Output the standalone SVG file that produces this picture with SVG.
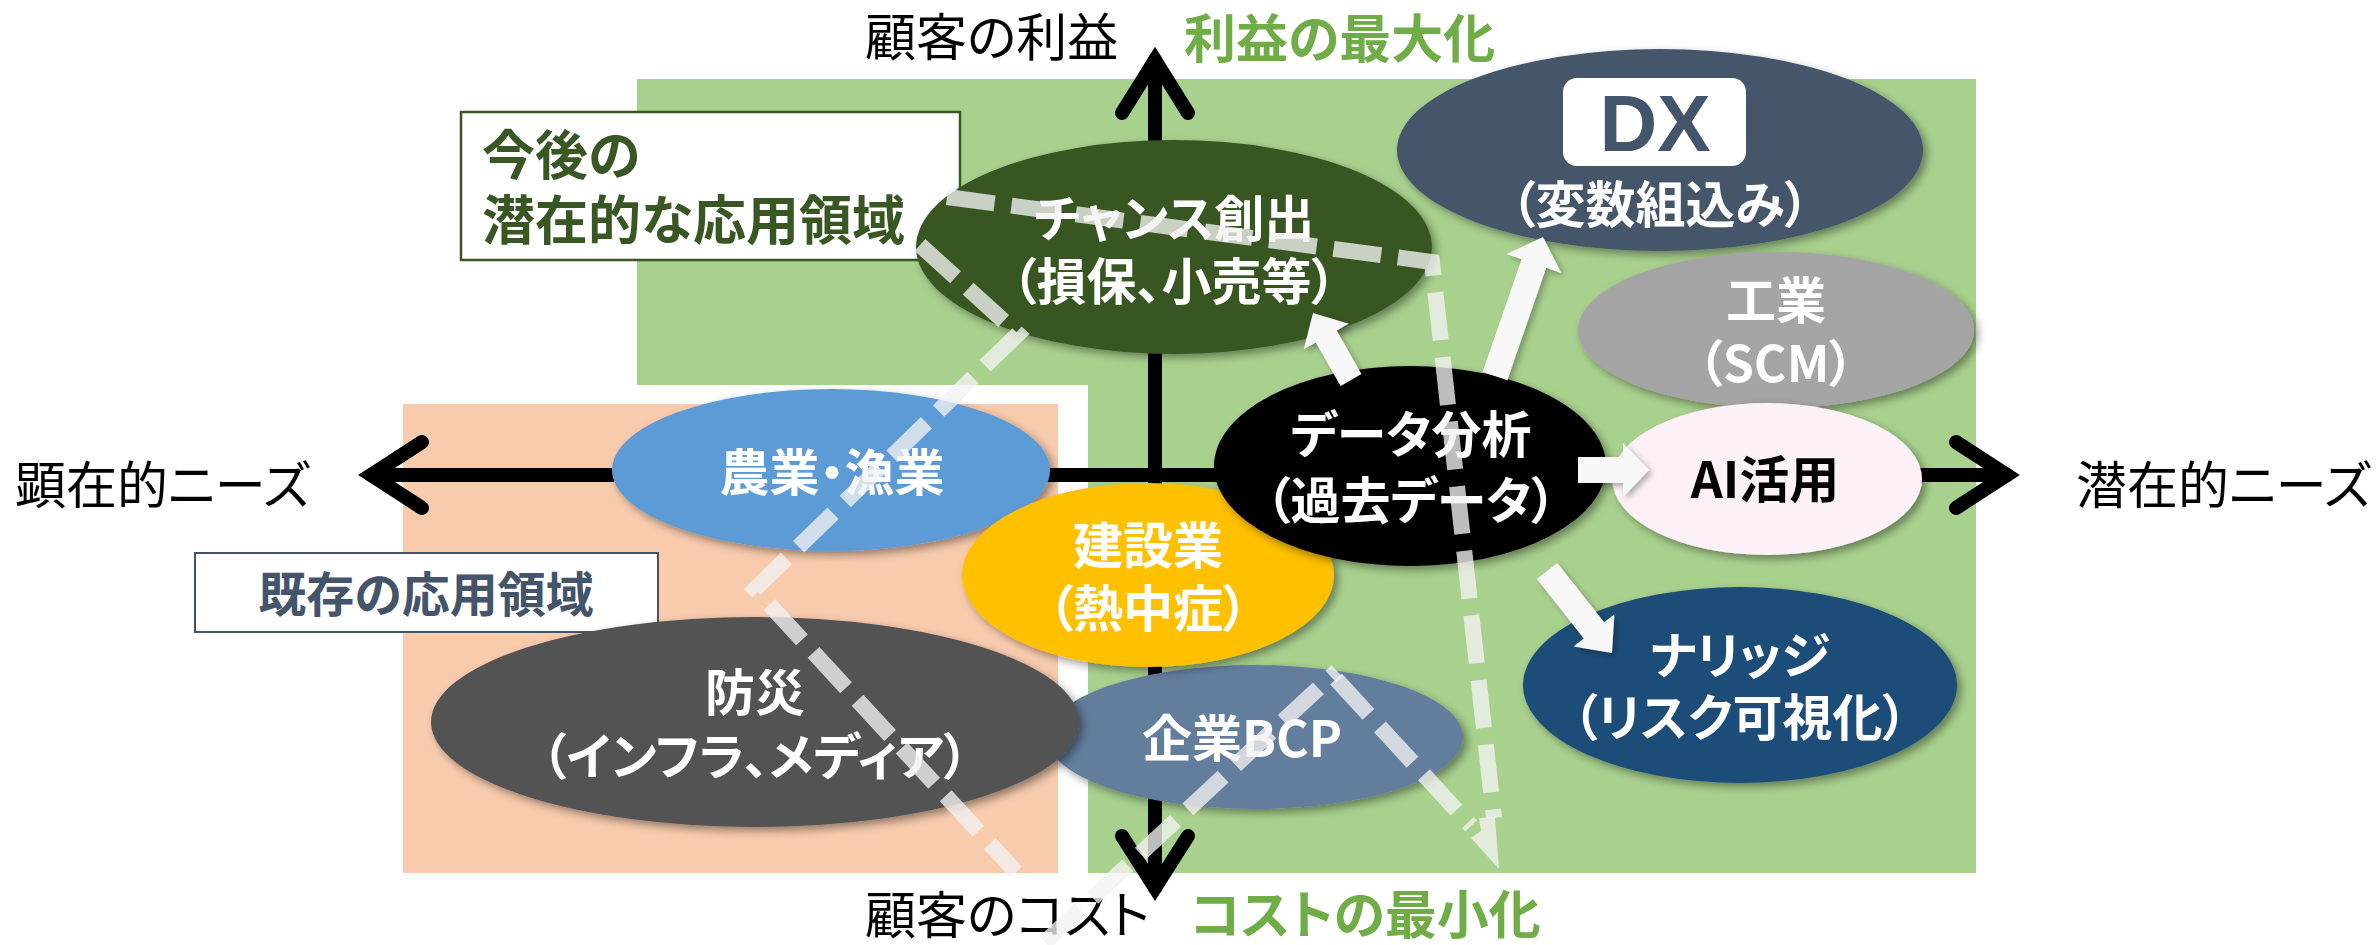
<svg xmlns="http://www.w3.org/2000/svg" width="2379" height="945" viewBox="0 0 2379 945">
<defs>
<style>
.jp{font-family:'Noto Sans CJK JP','Noto Sans CJK SC',sans-serif;font-feature-settings:"palt" 1;}
.nt{font-weight:700;font-size:50px;fill:#fff;text-anchor:middle;}
.ax{font-size:51px;fill:#000;font-weight:400;}
.gr{font-size:52px;fill:#70AD47;font-weight:700;}
.axis{stroke:#000;stroke-width:14;fill:none;stroke-linecap:round;stroke-linejoin:miter;stroke-miterlimit:6;}
.dash{stroke:#F2F2F2;stroke-opacity:0.78;stroke-width:16;fill:none;stroke-dasharray:48 17;stroke-linecap:butt;}
.arr{fill:#F8F8F8;}
</style>
<filter id="sh" x="-15%" y="-15%" width="135%" height="140%">
<feDropShadow dx="4" dy="4" stdDeviation="4" flood-color="#000" flood-opacity="0.4"/>
</filter>
<filter id="sh2" x="-30%" y="-30%" width="160%" height="160%">
<feDropShadow dx="3" dy="3" stdDeviation="3" flood-color="#000" flood-opacity="0.3"/>
</filter>
</defs>

<g id="background">
<rect x="637" y="79" width="1339" height="794" fill="#A9D18E"/>
<rect x="395" y="385" width="693" height="488" fill="#FFFFFF"/>
<rect x="403" y="404" width="655" height="469" fill="#F8CBAD"/>
</g>

<g id="axes">
<line class="axis" x1="1155" y1="60" x2="1155" y2="888"/>
<polyline class="axis" points="1122,113 1155,60 1188,113"/>
<polyline class="axis" points="1122,836 1155,888 1188,836"/>
<line class="axis" x1="371" y1="475" x2="2007" y2="475"/>
<polyline class="axis" points="422,442 371,475 422,508"/>
<polyline class="axis" points="1956,442 2007,475 1956,508"/>
</g>

<g id="axis-labels" class="jp">
<text class="ax" x="865" y="56">顧客の利益</text>
<text class="gr" x="1184" y="58">利益の最大化</text>
<text class="ax" x="865" y="934">顧客のコスト</text>
<text class="gr" x="1190" y="934">コストの最小化</text>
<text class="ax" x="15" y="504">顕在的ニーズ</text>
<text class="ax" x="2076" y="504">潜在的ニーズ</text>
</g>

<g id="label-future" class="jp">
<rect x="461" y="112" width="499" height="148" fill="#FFFFFF" stroke="#385723" stroke-width="2.5"/>
<text x="482" y="175" font-size="53" font-weight="700" fill="#385723">今後の</text>
<text x="482" y="240" font-size="53" font-weight="700" fill="#385723">潜在的な応用領域</text>
</g>

<g id="label-existing" class="jp">
<rect x="195" y="553" width="463" height="79" fill="#FFFFFF" stroke="#44546A" stroke-width="2"/>
<text x="426" y="612" font-size="48" font-weight="700" fill="#44546A" text-anchor="middle">既存の応用領域</text>
</g>

<g id="node-chance" class="jp">
<ellipse cx="1174" cy="247" rx="258" ry="107" fill="#385723" filter="url(#sh)"/>
<text class="nt" x="1174" y="237">チャンス創出</text>
<text class="nt" x="1174" y="300">（損保、小売等）</text>
</g>

<g id="node-dx" class="jp">
<ellipse cx="1660" cy="150" rx="263" ry="101" fill="#44546A" filter="url(#sh)"/>
<rect x="1563" y="78" width="183" height="88" rx="14" fill="#FFFFFF"/>
<text x="1655" y="151" font-size="80" font-weight="700" fill="#44546A" text-anchor="middle" font-family="'Liberation Sans',sans-serif">DX</text>
<text class="nt" x="1660" y="223">（変数組込み）</text>
</g>

<g id="node-industry" class="jp">
<ellipse cx="1776" cy="330" rx="198" ry="78" fill="#A5A5A5" filter="url(#sh)"/>
<text class="nt" x="1776" y="319">工業</text>
<text class="nt" x="1776" y="382">（SCM）</text>
</g>

<g id="node-ai" class="jp">
<ellipse cx="1767" cy="479" rx="155" ry="76" fill="#FCF1F6" filter="url(#sh)"/>
<text class="nt" x="1765" y="498" style="fill:#000">AI活用</text>
</g>

<g id="node-knowledge" class="jp">
<ellipse cx="1740" cy="685" rx="217" ry="98" fill="#1F4E79" filter="url(#sh)"/>
<text class="nt" x="1740" y="674">ナリッジ</text>
<text class="nt" x="1740" y="736">（リスク可視化）</text>
</g>

<g id="node-agri" class="jp">
<ellipse cx="831" cy="470" rx="219" ry="81" fill="#5B9BD5" filter="url(#sh)"/>
<text class="nt" x="832" y="491">農業・漁業</text>
</g>

<g id="node-bcp" class="jp">
<ellipse cx="1255" cy="737" rx="208" ry="72" fill="#647D9D" filter="url(#sh)"/>
<text class="nt" x="1242" y="757">企業BCP</text>
</g>

<g id="node-disaster" class="jp">
<ellipse cx="755" cy="722" rx="324" ry="105" fill="#525252" filter="url(#sh)"/>
<text class="nt" x="755" y="711">防災</text>
<text class="nt" x="755" y="775">（インフラ、メディア）</text>
</g>

<g id="node-construction" class="jp">
<ellipse cx="1148" cy="575" rx="186" ry="92" fill="#FFC000" filter="url(#sh)"/>
<text class="nt" x="1148" y="564">建設業</text>
<text class="nt" x="1148" y="627">（熱中症）</text>
</g>

<g id="node-data" class="jp">
<ellipse cx="1410" cy="466" rx="196" ry="100" fill="#000000" filter="url(#sh)"/>
<text class="nt" x="1411" y="453">データ分析</text>
<text class="nt" x="1411" y="519">（過去データ）</text>
</g>

<g id="connectors" filter="url(#sh2)">
<polygon class="arr" points="1361.4,374.1 1336.7,330.6 1348.9,323.7 1313,313 1303.7,349.3 1315.9,342.4 1340.6,385.9"/>
<polygon class="arr" points="1507.3,380.2 1546.2,267.7 1561.3,273.0 1543,237 1506.5,254.0 1521.6,259.3 1482.7,371.8"/>
<polygon class="arr" points="1578,457 1623,457 1623,443 1649,470 1623,497 1623,483 1578,483"/>
<polygon class="arr" points="1557.2,562.9 1604.2,622.2 1614.4,614.2 1612,653 1573.6,646.4 1583.8,638.4 1536.8,579.1"/>
</g>

<g id="boundaries">
<polyline class="dash" points="947,197 1432,262 1494,818"/>
<polygon points="1479,818 1495,817 1499,869 1471,838 1481,831" fill="#F2F2F2" fill-opacity="0.78"/>
<polyline class="dash" points="920,245 1018,334 755,589 1016,872"/>
<polyline class="dash" points="1045,942 1337,671"/>
<line class="dash" x1="1336" y1="679" x2="1471" y2="826"/>
</g>
</svg>
